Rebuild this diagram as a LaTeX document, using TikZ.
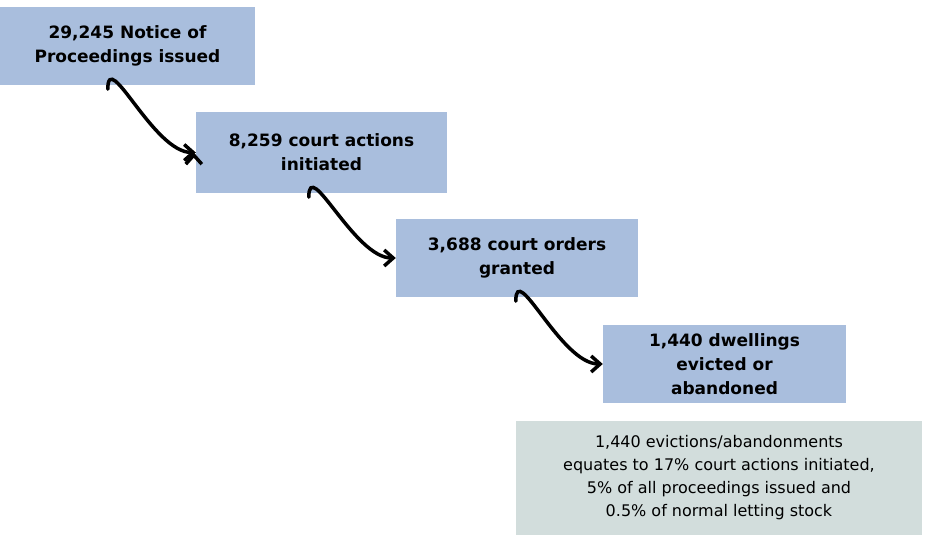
\documentclass[tikz,border=0pt]{standalone}
\usepackage{fontspec}
\setmainfont{DejaVu Sans}
\usetikzlibrary{arrows.meta,positioning}
\definecolor{stepblue}{HTML}{A9BEDD}
\definecolor{notegrey}{HTML}{D2DDDC}
\begin{document}
\begin{tikzpicture}[x=1pt,y=-1pt]
    \tikzset{SB/.style={fill=stepblue,inner sep=0pt,align=center,font=\fontsize{17}{24}\selectfont\bfseries}}
    \tikzset{NB/.style={fill=notegrey,inner sep=0pt,align=center,font=\fontsize{16}{23}\selectfont}}
    \tikzset{AR/.style={line width=3.5pt,-{Straight Barb[length=9pt,width=16pt]},line cap=round}}

    \useasboundingbox (0,0) rectangle (934,548);

    \node (s1) [SB,minimum width=255,minimum height=78] at (127.5,46) {29,245 Notice of\\Proceedings issued};
    \node (s2) [SB,minimum width=251,minimum height=81] at (321.5,152.5) {8,259 court actions\\initiated};
    \node (s3) [SB,minimum width=242,minimum height=78] at (517,258) {3,688 court orders\\granted};
    \node (s4) [SB,minimum width=243,minimum height=78] at (724.5,364) {1,440 dwellings\\evicted or\\abandoned};
    \node (nt) [NB,minimum width=406,minimum height=114] at (719,478) {1,440 evictions/abandonments\\equates to 17\% court actions initiated,\\5\% of all proceedings issued and\\0.5\% of normal letting stock};

    \draw[AR] ([xshift=108]s1.south west) ++(0,4) to[out=90,in=180] (s2.west);
    \draw[AR] ([xshift=-2pt]s2.west) ++(0,0) coordinate (c2);
    \draw[AR] ([xshift=113]s2.south west) ++(0,4) to[out=90,in=180] (s3.west);
    \draw[AR] ([xshift=120]s3.south west) ++(0,4) to[out=90,in=180] (s4.west);
\end{tikzpicture}
\end{document}
